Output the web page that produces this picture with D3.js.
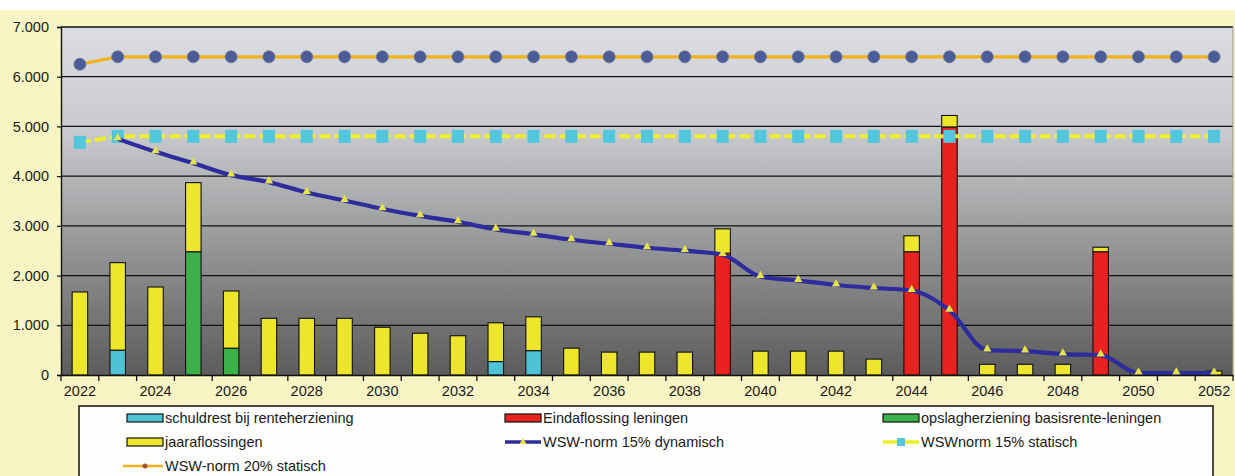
<!DOCTYPE html>
<html>
<head>
<meta charset="utf-8">
<script src="https://cdn.jsdelivr.net/npm/d3@7"></script>
<style>
  html, body { margin: 0; padding: 0; background: #ffffff; }
  svg { display: block; font-family: "Liberation Sans", Arial, sans-serif; }
</style>
</head>
<body>
<svg id="chart" width="1235" height="476"></svg>
<script>
// Jaren (categorieën)
const years = ["2022","2023","2024","2025","2026","2027","2028","2029","2030","2031",
               "2032","2033","2034","2035","2036","2037","2038","2039","2040","2041",
               "2042","2043","2044","2045","2046","2047","2048","2049","2050","2051","2052"];

// Gestapelde kolommen
const schuldrest       = [0,500,0,0,0,0,0,0,0,0, 0,270,490,0,0,0,0,0,0,0, 0,0,0,0,0,0,0,0,0,0,0];
const eindaflossing    = [0,0,0,0,0,0,0,0,0,0, 0,0,0,0,0,0,0,2450,0,0, 0,0,2480,4990,0,0,0,2480,0,0,0];
const opslagherziening = [0,0,0,2480,540,0,0,0,0,0, 0,0,0,0,0,0,0,0,0,0, 0,0,0,0,0,0,0,0,0,0,0];
const jaaraflossingen  = [1670,1760,1770,1390,1150,1140,1140,1140,960,840,
                          790,780,680,540,460,460,460,490,480,480,
                          480,320,320,230,215,215,215,90,60,20,80];

// Lijnen
const wsw15dyn  = [null,4750,4490,4260,4020,3880,3670,3510,3340,3200,
                   3080,2930,2830,2720,2640,2560,2500,2420,1980,1900,
                   1810,1750,1700,1300,500,480,420,400,40,40,40];
const wsw15stat = [4680,4800,4800,4800,4800,4800,4800,4800,4800,4800,
                   4800,4800,4800,4800,4800,4800,4800,4800,4800,4800,
                   4800,4800,4800,4800,4800,4800,4800,4800,4800,4800,4800];
const wsw20stat = [6250,6400,6400,6400,6400,6400,6400,6400,6400,6400,
                   6400,6400,6400,6400,6400,6400,6400,6400,6400,6400,
                   6400,6400,6400,6400,6400,6400,6400,6400,6400,6400,6400];

const yTicks = [0,1000,2000,3000,4000,5000,6000,7000];
const xLabels = years.filter((d, i) => i % 2 === 0);

const barSeries = [
  { key: "schuldrest",       label: "schuldrest bij renteherziening",          values: schuldrest,       color: "#4fc3d6" },
  { key: "eindaflossing",    label: "Eindaflossing leningen",                  values: eindaflossing,    color: "#e8221e" },
  { key: "opslagherziening", label: "opslagherziening basisrente-leningen",    values: opslagherziening, color: "#3db04a" },
  { key: "jaaraflossingen",  label: "jaaraflossingen",                         values: jaaraflossingen,  color: "#eee62c" }
];

const W = 1235, H = 476;
const plot = { left: 61, right: 1233, top: 27, bottom: 375 };

const svg = d3.select("#chart");

// Achtergrond
svg.append("rect").attr("x", 0).attr("y", 0).attr("width", W).attr("height", H).attr("fill", "#ffffff");
svg.append("rect").attr("x", 0).attr("y", 10).attr("width", W).attr("height", H - 10).attr("fill", "#f8f4c3");

const defs = svg.append("defs");
const grad = defs.append("linearGradient").attr("id", "plotBg")
  .attr("x1", 0).attr("y1", 0).attr("x2", 0).attr("y2", 1);
[[0, "#dcdde2"], [0.3, "#c9cacd"], [0.55, "#a2a3a5"], [0.8, "#7b7b7c"], [1, "#5c5c5c"]]
  .forEach(([o, c]) => grad.append("stop").attr("offset", o).attr("stop-color", c));

svg.append("rect")
  .attr("x", plot.left).attr("y", plot.top)
  .attr("width", plot.right - plot.left).attr("height", plot.bottom - plot.top)
  .attr("fill", "url(#plotBg)");

// Schalen
const x = d3.scaleBand().domain(years).range([plot.left, plot.right])
  .paddingInner(0.59).paddingOuter(0.295);
const step = x.step();
const cx = d => x(d) + x.bandwidth() / 2;
const y = d3.scaleLinear().domain([0, 7000]).range([plot.bottom, plot.top]);

// Rasterlijnen
svg.append("g").selectAll("line").data(yTicks.filter(d => d > 0)).join("line")
  .attr("x1", plot.left).attr("x2", plot.right)
  .attr("y1", d => y(d)).attr("y2", d => y(d))
  .attr("stroke", "#111").attr("stroke-width", 1.3);

svg.append("line")
  .attr("x1", plot.right).attr("x2", plot.right).attr("y1", plot.top).attr("y2", plot.bottom)
  .attr("stroke", "#9a9a9a").attr("stroke-width", 1);

// Gestapelde kolommen
const table = years.map((yr, i) => {
  const row = { year: yr };
  barSeries.forEach(s => row[s.key] = s.values[i]);
  return row;
});
const stack = d3.stack().keys(barSeries.map(s => s.key));
const stacked = stack(table);

svg.append("g").selectAll("g").data(stacked).join("g")
  .attr("fill", (d, i) => barSeries[i].color)
  .selectAll("rect").data(d => d.filter(p => p[1] - p[0] > 0)).join("rect")
  .attr("x", d => x(d.data.year))
  .attr("width", x.bandwidth())
  .attr("y", d => y(d[1]))
  .attr("height", d => y(d[0]) - y(d[1]))
  .attr("stroke", "#111").attr("stroke-width", 1.1);

// Lijn: WSW-norm 20% statisch
const line = d3.line().defined(d => d[1] != null).x(d => cx(d[0])).y(d => y(d[1]));
const pts20 = years.map((yr, i) => [yr, wsw20stat[i]]);
svg.append("path").datum(pts20)
  .attr("d", line).attr("fill", "none")
  .attr("stroke", "#f2b21c").attr("stroke-width", 3.2);
svg.append("g").selectAll("circle").data(pts20).join("circle")
  .attr("cx", d => cx(d[0])).attr("cy", d => y(d[1])).attr("r", 6)
  .attr("fill", "#4c5c98").attr("stroke", "#6a7690").attr("stroke-width", 0.8);

// Lijn: WSWnorm 15% statisch
const pts15s = years.map((yr, i) => [yr, wsw15stat[i]]);
svg.append("path").datum(pts15s)
  .attr("d", line).attr("fill", "none")
  .attr("stroke", "#eeee2a").attr("stroke-width", 4)
  .attr("stroke-dasharray", "11,4");
svg.append("g").selectAll("rect").data(pts15s).join("rect")
  .attr("x", d => cx(d[0]) - 6).attr("y", d => y(d[1]) - 6.5)
  .attr("width", 12).attr("height", 13)
  .attr("fill", "#52c6dc");

// Lijn: WSW-norm 15% dynamisch
const pts15d = years.map((yr, i) => [yr, wsw15dyn[i]]);
const smooth = d3.line().defined(d => d[1] != null).x(d => cx(d[0])).y(d => y(d[1]))
  .curve(d3.curveMonotoneX);
svg.append("path").datum(pts15d)
  .attr("d", smooth).attr("fill", "none")
  .attr("stroke", "#2c2c9c").attr("stroke-width", 4.2);
const tri = d3.symbol().type(d3.symbolTriangle).size(30);
svg.append("g").selectAll("path").data(pts15d.filter(d => d[1] != null)).join("path")
  .attr("d", tri)
  .attr("transform", d => `translate(${cx(d[0])},${y(d[1]) - 1})`)
  .attr("fill", "#e6e24a");

// Assen
const fmt = d => d3.format(",")(d).replace(/,/g, ".");
const yAxis = svg.append("g").attr("transform", `translate(${plot.left},0)`)
  .call(d3.axisLeft(y).tickValues(yTicks).tickFormat(fmt).tickSize(4).tickPadding(8));
yAxis.select(".domain").attr("stroke", "#111").attr("stroke-width", 1.4);
yAxis.selectAll(".tick line").attr("stroke", "#111").attr("stroke-width", 1.2);
yAxis.selectAll("text").attr("font-size", 14.5).attr("fill", "#1a1a1a")
  .attr("font-family", "Liberation Sans, Arial, sans-serif");

const xAxis = svg.append("g").attr("transform", `translate(0,${plot.bottom})`)
  .call(d3.axisBottom(x).tickValues(xLabels).tickSize(0).tickPadding(11));
xAxis.select(".domain").attr("stroke", "#111").attr("stroke-width", 1.4);
xAxis.selectAll("text").attr("font-size", 14.5).attr("fill", "#1a1a1a")
  .attr("font-family", "Liberation Sans, Arial, sans-serif");

// Maatstreepjes op de grenzen tussen de jaren
const bounds = years.map(d => cx(d) - step / 2).concat([cx(years[years.length - 1]) + step / 2]);
svg.append("g").selectAll("line").data(bounds).join("line")
  .attr("x1", d => d).attr("x2", d => d)
  .attr("y1", plot.bottom).attr("y2", plot.bottom + 6)
  .attr("stroke", "#111").attr("stroke-width", 1.3);

// Legenda
const lg = svg.append("g");
lg.append("rect").attr("x", 79).attr("y", 406).attr("width", 1134).attr("height", 90)
  .attr("fill", "#fdfdfb").attr("stroke", "#111").attr("stroke-width", 1.5);

const legendItems = [
  { type: "bar",  label: barSeries[0].label, color: barSeries[0].color, col: 0, row: 0 },
  { type: "bar",  label: barSeries[1].label, color: barSeries[1].color, col: 1, row: 0 },
  { type: "bar",  label: barSeries[2].label, color: barSeries[2].color, col: 2, row: 0 },
  { type: "bar",  label: barSeries[3].label, color: barSeries[3].color, col: 0, row: 1 },
  { type: "dyn",  label: "WSW-norm 15% dynamisch", col: 1, row: 1 },
  { type: "stat", label: "WSWnorm 15% statisch",   col: 2, row: 1 },
  { type: "n20",  label: "WSW-norm 20% statisch",  col: 0, row: 2 }
];
const colX = [127, 505, 883];
const rowY = [418, 442, 466];

legendItems.forEach(it => {
  const gx = colX[it.col], gy = rowY[it.row];
  const g = lg.append("g");
  if (it.type === "bar") {
    g.append("rect").attr("x", gx).attr("y", gy - 4).attr("width", 36).attr("height", 8)
      .attr("fill", it.color).attr("stroke", "#111").attr("stroke-width", 1.2);
  } else if (it.type === "dyn") {
    g.append("line").attr("x1", gx).attr("x2", gx + 36).attr("y1", gy).attr("y2", gy)
      .attr("stroke", "#2c2c9c").attr("stroke-width", 3.5);
    g.append("path").attr("d", d3.symbol().type(d3.symbolTriangle).size(22))
      .attr("transform", `translate(${gx + 18},${gy})`).attr("fill", "#e6e24a");
  } else if (it.type === "stat") {
    g.append("line").attr("x1", gx).attr("x2", gx + 36).attr("y1", gy).attr("y2", gy)
      .attr("stroke", "#eeee2a").attr("stroke-width", 3.5);
    g.append("rect").attr("x", gx + 14).attr("y", gy - 4).attr("width", 8).attr("height", 8)
      .attr("fill", "#52c6dc");
  } else {
    g.append("line").attr("x1", gx - 4).attr("x2", gx + 36).attr("y1", gy).attr("y2", gy)
      .attr("stroke", "#f2b21c").attr("stroke-width", 2.5);
    g.append("circle").attr("cx", gx + 18).attr("cy", gy).attr("r", 2.5).attr("fill", "#a0522d");
  }
  g.append("text").attr("x", gx + 38).attr("y", gy).attr("dy", "0.36em")
    .attr("font-size", 14.5).attr("fill", "#1a1a1a").text(it.label);
});
</script>
</body>
</html>
